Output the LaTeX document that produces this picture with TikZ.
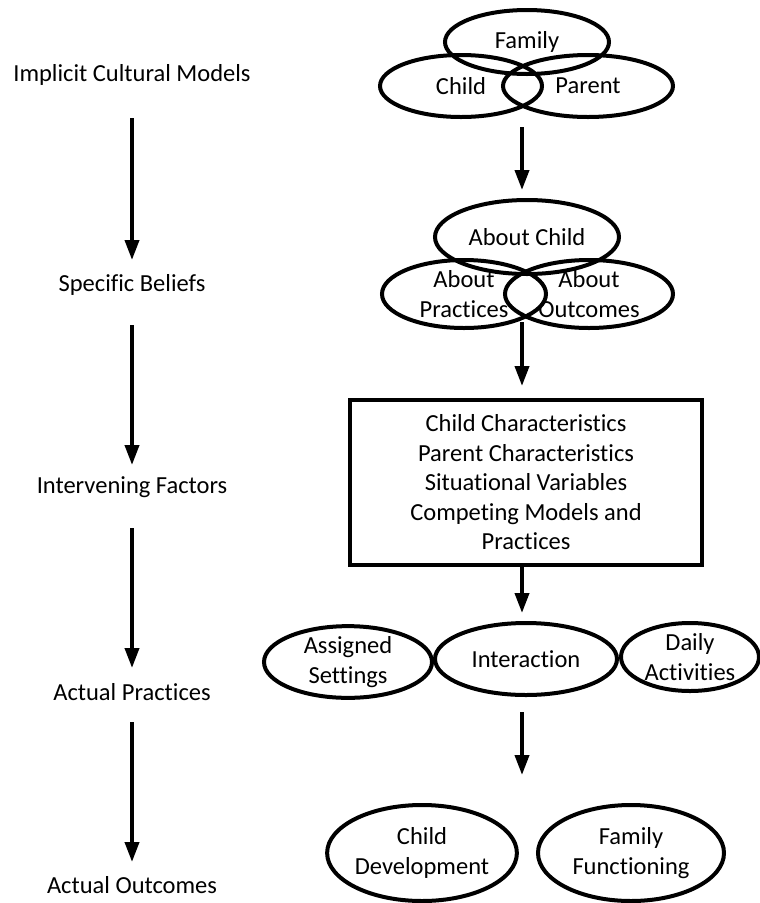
\documentclass[tikz,border=0pt]{standalone}
\usepackage{fontspec}
\setmainfont{Carlito}[Ligatures=NoCommon]
\usetikzlibrary{shapes.geometric,arrows.meta}
\begin{document}
\begin{tikzpicture}[x=1pt,y=-1pt,
  txt/.style={font=\fontsize{24.5}{29.5}\selectfont},
  lbl/.style={txt, inner sep=0pt},
  ell/.style={ellipse, draw, line width=4pt, inner sep=0pt, txt, align=center},
  bx/.style={rectangle, draw, line width=4pt, inner sep=0pt, txt, align=center},
  arr/.style={line width=3.8pt, -{Triangle[length=20pt,width=14pt]}},
]
\useasboundingbox (0,0) rectangle (760,903);

% left column
\node[lbl] (icm) at (132,75)  {Implicit Cultural Models};
\node[lbl] (sb)  at (132,285) {Specific Beliefs};
\node[lbl] (ifa) at (132,487) {Intervening Factors};
\node[lbl] (ap)  at (132,692) {Actual Practices};
\node[lbl] (ao)  at (132,885) {Actual Outcomes};

\draw[arr, shorten <=43pt, shorten >=25pt] (icm.center) -- (sb.center);
\draw[arr, shorten <=40pt, shorten >=22pt] (sb.center) -- (ifa.center);
\draw[arr, shorten <=41pt, shorten >=24pt] (ifa.center) -- (ap.center);
\draw[arr, shorten <=30pt, shorten >=23pt] (ap.center) -- (ao.center);

% right column
\node[ell, minimum width=164pt, minimum height=64pt] (family) at (527,42) {Family};
\node[ell, minimum width=162pt, minimum height=62pt] (child)  at (461,86) {Child};
\node[ell, minimum width=170pt, minimum height=62pt] (parent) at (588,86) {Parent};

\node[ell, minimum width=184pt, minimum height=74pt] (aboutchild) at (527,237) {About Child};
\node[ell, minimum width=164pt, minimum height=68pt] (aboutprac)  at (464,294) {About\\Practices};
\node[ell, minimum width=168pt, minimum height=68pt] (aboutout)   at (589,294) {About\\Outcomes};

\node[bx, minimum width=352pt, minimum height=165pt] (box) at (526,482.5)
  {Child Characteristics\\Parent Characteristics\\Situational Variables\\Competing Models and\\Practices};

\node[ell, minimum width=168pt, minimum height=70pt] (assigned)    at (348,662) {Assigned\\Settings};
\node[ell, minimum width=182pt, minimum height=72pt] (interaction) at (526,659) {Interaction};
\node[ell, minimum width=138pt, minimum height=68pt] (daily)       at (690,657) {Daily\\Activities};

\node[ell, minimum width=184pt, minimum height=96pt] (childdev) at (422,853) {Child\\Development};
\node[ell, minimum width=186pt, minimum height=96pt] (famfunc)  at (631,853) {Family\\Functioning};

\coordinate (a1) at (522,127);
\coordinate (a2) at (522,322);
\coordinate (a3) at (522,566);
\coordinate (a4) at (522,712);

\draw[arr, shorten >=8pt]  (a1) -- (aboutchild.north -| a1);
\draw[arr, shorten >=12pt] (a2) -- (box.north -| a2);
\draw[arr, shorten >=8pt]  (a3) -- (interaction.north -| a3);
\draw[arr, shorten >=28pt] (a4) -- (childdev.north -| a4);
\end{tikzpicture}
\end{document}
